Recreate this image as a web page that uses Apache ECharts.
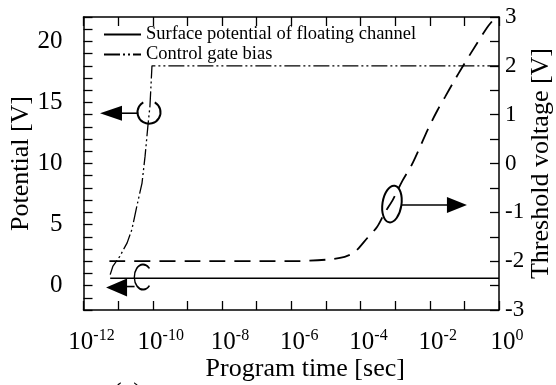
<!DOCTYPE html>
<html><head><meta charset="utf-8">
<script src="https://cdn.jsdelivr.net/npm/echarts@6/dist/echarts.min.js"></script>
<style>html,body{margin:0;padding:0;background:#fff}#c{width:556px;height:385px}</style>
</head><body><div id="c"></div>
<script>
// ---- data ----
const seriesNames = ['Surface potential of floating channel', 'Control gate bias', 'Threshold voltage'];
const surfaceTime = [5.9e-12, 1];
const surfaceV    = [0.6, 0.6];
const gateTime = [5.9e-12, 7.1e-12, 1.12e-11, 1.82e-11, 2.5e-11, 3.47e-11, 4.9e-11, 6.0e-11, 7.2e-11, 8.3e-11, 9.5e-11, 1];
const gateV    = [0.9, 1.6, 2.4, 3.5, 4.6, 6.5, 8.4, 10.6, 13.0, 14.7, 18, 18];
const vtTime = [5.6e-12, 1e-9, 1e-6, 1e-5, 3.5e-5, 6.9e-5, 1.6e-4, 3e-4, 5e-4, 8.5e-4, 1.55e-3, 3e-3, 5.1e-3, 8.7e-3, 0.017, 0.0275, 0.0525, 0.085, 0.145, 0.45, 0.76];
const vtV    = [-2.0, -2.0, -2.0, -1.97, -1.91, -1.81, -1.52, -1.30, -1.01, -0.75, -0.38, -0.03, 0.32, 0.69, 1.10, 1.36, 1.71, 1.96, 2.23, 2.78, 2.98];
const leftTickLabels  = [0, 5, 10, 15, 20];
const rightTickLabels = [-3, -2, -1, 0, 1, 2, 3];
const xLabelExps = [-12, -10, -8, -6, -4, -2, 0];
const axisNames = { x: 'Program time [sec]', left: 'Potential [V]', right: 'Threshold voltage [V]' };
const panelLabel = '(a)';
// annotation anchors (data coordinates: time, value)
const ringAnchor    = [7.8e-11, 14.2];   // left axis
const cAnchor       = [5.25e-11, 0.7];   // left axis
const ellipseAnchor = [8.1e-4, -0.83];   // right axis

// x axis is a decade (log10) scale of program time
const lg = t => Math.log10(t);
const zip = (a, b) => a.map((v, i) => [lg(v), b[i]]);
const FONT = '"Liberation Serif", "Times New Roman", serif';

const chart = echarts.init(document.getElementById('c'), null, { renderer: 'canvas' });

const xAxisBase = {
  type: 'value', min: -12, max: 0, interval: 1, nameMoveOverlap: false,
  axisLine: { show: true, onZero: false, lineStyle: { color: '#000', width: 1.5 } },
  axisTick: { show: true, inside: true, length: 9, lineStyle: { color: '#000', width: 1.3 } },
  splitLine: { show: false }, minorTick: { show: false }
};

const option = {
  animation: false,
  backgroundColor: '#fff',
  grid: { left: 83.5, right: 57, top: 17, bottom: 75, containLabel: false, outerBoundsMode: 'none' },
  legend: {
    data: [seriesNames[0], seriesNames[1]],
    orient: 'vertical', left: 98, top: 20, itemWidth: 37, itemHeight: 12, itemGap: 1,
    itemStyle: { opacity: 0 },
    textStyle: { fontFamily: FONT, fontSize: 18.5, color: '#000' }
  },
  xAxis: [
    Object.assign({}, xAxisBase, {
      position: 'bottom',
      name: axisNames.x, nameLocation: 'middle', nameGap: 46,
      nameTextStyle: { fontFamily: FONT, fontSize: 26, color: '#000', padding: [0, 0, 0, 28] },
      axisLabel: {
        margin: 18, padding: [0, 0, 0, 16],
        formatter: function (v) {
          const e = Math.round(v);
          if (!xLabelExps.includes(e)) return '';
          return '{b|10}{s|' + e + '}';
        },
        rich: {
          b: { fontFamily: FONT, fontSize: 25, color: '#000', lineHeight: 28 },
          s: { fontFamily: FONT, fontSize: 16, color: '#000', verticalAlign: 'top', lineHeight: 15 }
        }
      }
    }),
    Object.assign({}, xAxisBase, { position: 'top', axisLabel: { show: false } })
  ],
  yAxis: [
    {
      type: 'value', position: 'left', min: -2, max: 22, interval: 1, nameMoveOverlap: false,
      name: axisNames.left, nameLocation: 'middle', nameGap: 49, nameRotate: 90,
      nameTextStyle: { fontFamily: FONT, fontSize: 26, color: '#000' },
      axisLine: { show: true, onZero: false, lineStyle: { color: '#000', width: 1.5 } },
      axisTick: { show: true, inside: true, length: 9, lineStyle: { color: '#000', width: 1.3 } },
      splitLine: { show: false },
      axisLabel: {
        margin: 21, fontFamily: FONT, fontSize: 25, color: '#000',
        formatter: v => (leftTickLabels.includes(v) ? String(v) : '')
      }
    },
    {
      type: 'value', position: 'right', min: -3, max: 3, interval: 0.5, nameMoveOverlap: false,
      name: axisNames.right, nameLocation: 'middle', nameGap: 29, nameRotate: 90,
      nameTextStyle: { fontFamily: FONT, fontSize: 26, color: '#000' },
      axisLine: { show: true, onZero: false, lineStyle: { color: '#000', width: 1.5 } },
      axisTick: { show: true, inside: true, length: 9, lineStyle: { color: '#000', width: 1.3 } },
      splitLine: { show: false },
      axisLabel: {
        margin: 6, fontFamily: FONT, fontSize: 23, color: '#000',
        formatter: v => (rightTickLabels.includes(v) ? String(v) : '')
      }
    }
  ],
  series: [
    {
      name: seriesNames[0], type: 'line', xAxisIndex: 0, yAxisIndex: 0,
      data: zip(surfaceTime, surfaceV), symbol: 'none', showSymbol: false,
      lineStyle: { color: '#000', width: 1.6, type: 'solid' }, itemStyle: { color: '#000' }
    },
    {
      name: seriesNames[1], type: 'line', xAxisIndex: 0, yAxisIndex: 0,
      data: zip(gateTime, gateV), symbol: 'none', showSymbol: false,
      lineStyle: { color: '#000', width: 1.3, type: [16, 3, 2, 3, 2, 3] }, itemStyle: { color: '#000' }
    },
    {
      name: seriesNames[2], type: 'line', xAxisIndex: 0, yAxisIndex: 1,
      data: zip(vtTime, vtV), symbol: 'none', showSymbol: false, smooth: 0.3,
      lineStyle: { color: '#000', width: 1.8, type: [16, 9] }, itemStyle: { color: '#000' }
    }
  ]
};
chart.setOption(option);

// ---- annotations placed through the chart's coordinate system ----
const px = (pt, yi) => chart.convertToPixel({ xAxisIndex: 0, yAxisIndex: yi }, [lg(pt[0]), pt[1]]);
const r1 = px(ringAnchor, 0);
const c2 = px(cAnchor, 0);
const e3 = px(ellipseAnchor, 1);
const stroke = { fill: null, stroke: '#000', lineWidth: 2 };
const tri = (tx, ty, bx, h) => ({ type: 'polygon', shape: { points: [[tx, ty], [bx, ty - h], [bx, ty + h]] }, style: { fill: '#000' } });
const seg = (x1, y1, x2, y2) => ({ type: 'line', shape: { x1, y1, x2, y2 }, style: { stroke: '#000', lineWidth: 1.6 } });

chart.setOption({
  graphic: [
    { type: 'arc', x: r1[0], y: r1[1], shape: { cx: 0, cy: 0, r: 11.5, startAngle: -Math.PI / 3, endAngle: Math.PI * 4 / 3, clockwise: true }, style: stroke },
    seg(r1[0] - 11.5, r1[1] + 1, r1[0] - 28, r1[1] + 1),
    tri(r1[0] - 49, r1[1] + 1, r1[0] - 27, 7.5),

    { type: 'arc', x: c2[0], y: c2[1], scaleX: 0.7, shape: { cx: 0, cy: 0, r: 12.5, startAngle: 0.75, endAngle: Math.PI * 2 - 0.75, clockwise: true }, style: stroke },
    seg(c2[0] - 8.5, c2[1] + 9.5, c2[0] - 17, c2[1] + 9.5),
    tri(c2[0] - 37, c2[1] + 10.5, c2[0] - 16, 9),

    { type: 'ellipse', x: e3[0], y: e3[1], rotation: -0.15, shape: { cx: 0, cy: 0, rx: 9.5, ry: 18.5 }, style: stroke },
    seg(e3[0] + 9.5, e3[1] + 1, e3[0] + 56, e3[1] + 1),
    tri(e3[0] + 75, e3[1] + 1, e3[0] + 55, 8),

    { type: 'text', left: 113, top: 380, style: { text: panelLabel, font: '26px "Liberation Serif"', fill: '#000' } }
  ]
});
</script>
</body></html>
